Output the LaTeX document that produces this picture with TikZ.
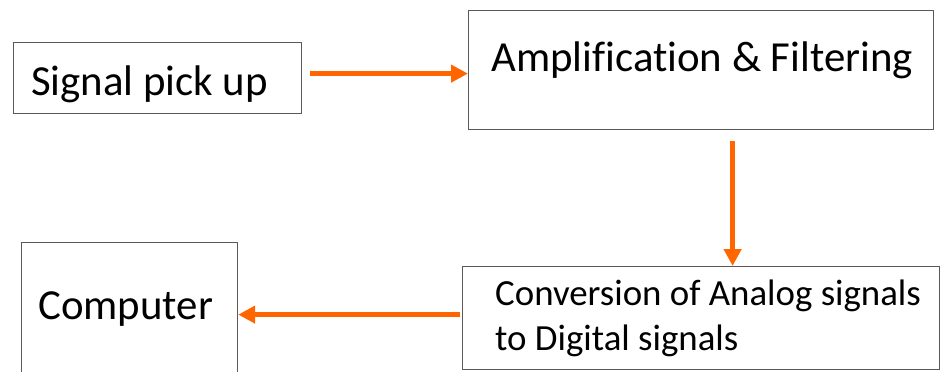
\documentclass[tikz,border=0pt]{standalone}
\usepackage{fontspec}
\setmainfont{Carlito}[Ligatures=NoCommon]
\usetikzlibrary{arrows.meta,positioning,calc}
\definecolor{boxline}{HTML}{595959}
\definecolor{flowor}{HTML}{FF6600}
\tikzset{
  stagebox/.style={draw=boxline,line width=1.2bp,inner sep=0pt,anchor=north west},
  stagetext/.style={font=\fontsize{43}{52}\selectfont,inner sep=0pt,anchor=base west,align=left},
  smalltext/.style={font=\fontsize{37}{45}\selectfont,inner sep=0pt,anchor=base west,align=left},
  flowarr/.style={-{Triangle[length=17bp,width=17bp]},line width=5bp,color=flowor}
}
\begin{document}
\begin{tikzpicture}[x=1bp,y=-1bp]
  \useasboundingbox (0,0) rectangle (940,371);
  \clip (0,0) rectangle (940,371);

  % stage boxes
  \node[stagebox,minimum width=288bp,minimum height=71bp] (pickup) at (13,42) {};
  \node[stagebox,minimum width=465bp,minimum height=119bp] (amp) at (468,10) {};
  \node[stagebox,minimum width=477bp,minimum height=103bp] (adc) at (462,266) {};
  \node[stagebox,minimum width=216bp,minimum height=160bp] (comp) at (21,242) {};

  % texts (base of a two-line node sits on its last line)
  \node[stagetext] (pickuptxt) at ([shift={(18,53)}]pickup.north west) {Signal pick up};
  \node[stagetext] (amptxt) at ([shift={(23,61)}]amp.north west) {Amplification \& Filtering};
  \node[smalltext] (adctxt) at ([shift={(33,84)}]adc.north west) {Conversion of Analog signals\\to Digital signals};
  \node[stagetext] (comptxt) at ([shift={(17,77)}]comp.north west) {Computer};

  % connectors
  \coordinate (a1) at ([shift={(8,-4.5)}]pickup.east);
  \draw[flowarr] (a1) -- (a1 -| amp.west);
  \coordinate (a2) at ([shift={(31.5,11)}]amp.south);
  \draw[flowarr] (a2) -- (a2 |- adc.north);
  \coordinate (a3) at ([shift={(-2,-3.5)}]adc.west);
  \draw[flowarr] (a3) -- (a3 -| comp.east);
\end{tikzpicture}
\end{document}
